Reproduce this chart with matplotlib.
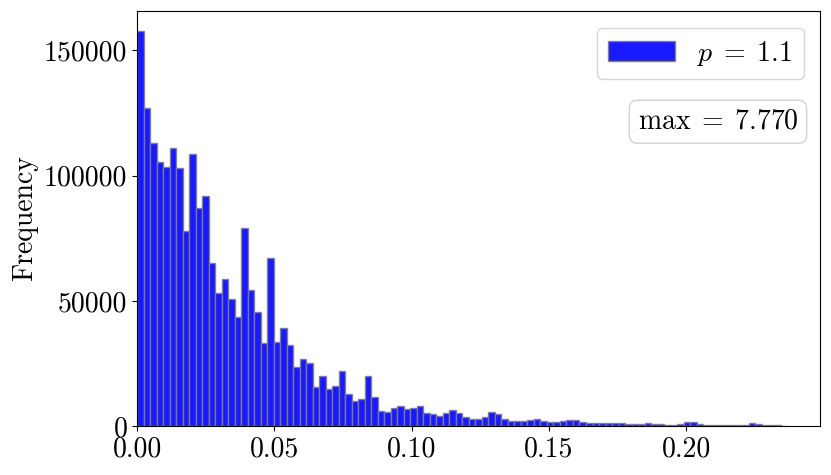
import numpy as np
import matplotlib
matplotlib.use('Agg')
import matplotlib.pyplot as plt

plt.rcParams['font.family'] = 'serif'
plt.rcParams['font.serif'] = ['cmr10', 'DejaVu Serif']
plt.rcParams['mathtext.fontset'] = 'cm'
plt.rcParams['axes.formatter.use_mathtext'] = True
plt.rcParams['font.size'] = 20

# histogram counts (100 bins)
bin_min = 0.0
bin_max = 0.237
n_bins = 100
counts = [
    157900, 127200, 113200, 105500, 103600, 110900, 103200, 77900, 108700, 87200,
    92000, 65200, 53300, 58600, 50700, 43400, 79000, 54300, 45700, 33300,
    67200, 33400, 39300, 32400, 23500, 26700, 25100, 15500, 19800, 14700,
    15900, 21900, 12900, 10000, 10900, 20100, 11600, 6200, 5800, 7300,
    8200, 7000, 7400, 8000, 5200, 4900, 4200, 5400, 6500, 5200,
    3600, 2900, 2900, 3600, 5700, 4800, 2700, 2100, 2000, 2100,
    2500, 2700, 2000, 1700, 1700, 1900, 2400, 2400, 1700, 1300,
    1100, 1100, 1100, 1200, 1300, 900, 700, 1000, 1100, 900,
    700, 600, 600, 800, 1700, 1500, 800, 500, 500, 400,
    400, 400, 400, 500, 1300, 800, 400, 300, 300, 200,
]
label = r'$p\;=\;1.1$'
max_text = r'$\mathrm{max}\;=\;7.770$'

edges = np.linspace(bin_min, bin_max, n_bins + 1)

fig = plt.figure(figsize=(8.31, 4.75), dpi=100)
ax = fig.add_axes([0.165, 0.103, 0.822, 0.874])

ax.hist(edges[:-1], bins=edges, weights=counts, color='blue', alpha=0.9,
        edgecolor='gray', linewidth=1, label=label)

ax.set_xlim(0, bin_max * 1.05)
ax.set_ylim(0, max(counts) * 1.05)
ax.set_xticks([0, 0.05, 0.10, 0.15, 0.20])
ax.set_xticklabels(['0.00', '0.05', '0.10', '0.15', '0.20'])
ax.set_yticks([0, 50000, 100000, 150000])
ax.set_yticklabels(['0', '50000', '100000', '150000'])
ax.set_ylabel('Frequency')

ax.legend(loc='upper right', handlelength=2.4, borderpad=0.4, borderaxespad=0.6)
ax.text(0.968, 0.733, max_text, transform=ax.transAxes, ha='right', va='center',
        bbox=dict(boxstyle='round,pad=0.3', facecolor='white', edgecolor='lightgray'))

fig.savefig('out.png', dpi=100)
